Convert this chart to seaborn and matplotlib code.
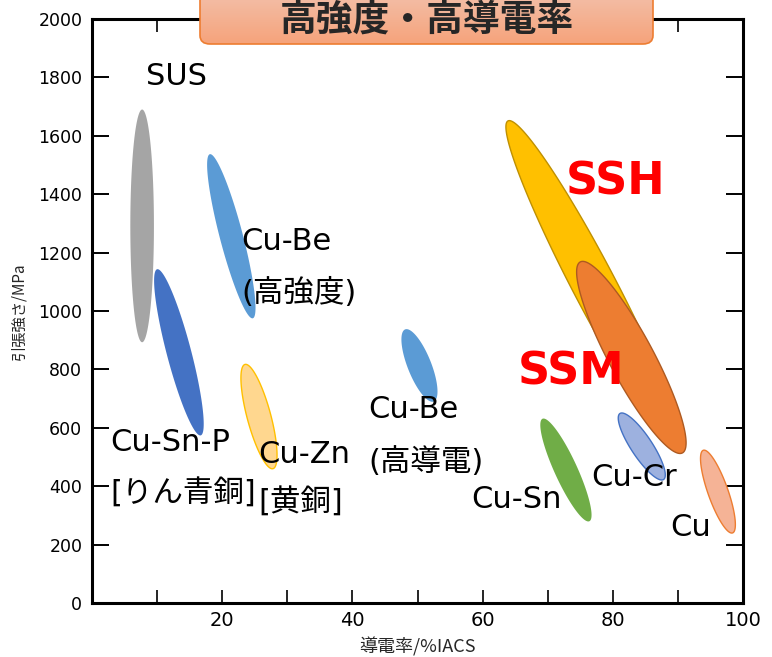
import numpy as np
import matplotlib
matplotlib.use("Agg")
import matplotlib.pyplot as plt
from matplotlib.patches import FancyBboxPatch
from matplotlib.colors import LinearSegmentedColormap
import seaborn as sns

# 材料ごとの範囲 (楕円の上端・下端: 導電率 %IACS, 引張強さ MPa)
materials = ["SUS", "Cu-Be(高強度)", "Cu-Sn-P", "Cu-Zn", "Cu-Be(高導電)",
             "SSH", "SSM", "Cu-Cr", "Cu-Sn", "Cu"]
cond_top = [7.7, 18.1, 10.0, 23.5, 48.1, 63.9, 75.0, 81.1, 69.2, 93.9]
str_top = [1690, 1537, 1143, 817, 937, 1651, 1168, 649, 631, 523]
cond_bot = [7.7, 24.7, 16.7, 27.8, 52.5, 90.5, 90.7, 87.8, 76.4, 98.4]
str_bot = [893, 975, 574, 460, 690, 519, 514, 423, 280, 240]

# 見た目 (太さ pt, 塗り, 枠)
half_width = [8.5, 8.3, 8.8, 8.5, 8.5, 15.5, 16.0, 7.6, 8.2, 7.2]
fills = ["#A5A5A5", "#5B9BD5", "#4472C4", "#FFD78F", "#5B9BD5",
         "#FFC000", "#ED7D31", "#9DB1DF", "#70AD47", "#F5B396"]
edges = ["none", "none", "none", "#FFC000", "none",
         "#BF9000", "#AE5A21", "#4472C4", "none", "#ED7D31"]

# ラベル
label_text = ["SUS", "Cu-Be", "(高強度)", "Cu-Sn-P", "[りん青銅]", "Cu-Zn", "[黄銅]",
              "Cu-Be", "(高導電)", "Cu-Sn", "Cu-Cr", "Cu"]
label_x = [8.3, 23.0, 23.0, 2.8, 2.8, 25.5, 25.5, 42.4, 42.4, 58.2, 76.7, 88.9]
label_y = [1802, 1238, 1063, 549, 374, 508, 344, 662, 484, 354, 430, 258]

xticks = list(range(0, 101, 10))
xticklabels = ["" if (t % 20 or t == 0) else str(t) for t in xticks]
yticks = list(range(0, 2001, 200))

sns.set_theme(style="ticks")
plt.rcParams["font.family"] = ["DejaVu Sans", "Noto Sans CJK JP"]

fig = plt.figure(figsize=(7.72, 6.57), dpi=100)
ax = fig.add_axes([92 / 772, 54 / 657, 651 / 772, 584 / 657])
ax.set_xlim(0, 100)
ax.set_ylim(0, 2000)


def ellipse(x1, y1, x2, y2, hw):
    tr = ax.transData
    p1 = tr.transform((x1, y1))
    p2 = tr.transform((x2, y2))
    c = (p1 + p2) / 2
    d = (p2 - p1) / 2
    u = d / np.hypot(*d)
    v = np.array([-u[1], u[0]]) * hw * fig.dpi / 72
    t = np.linspace(0, 2 * np.pi, 240)
    pts = c + np.outer(np.cos(t), d) + np.outer(np.sin(t), v)
    xy = tr.inverted().transform(pts)
    return xy[:, 0], xy[:, 1]


for i in range(len(materials)):
    xs, ys = ellipse(cond_top[i], str_top[i], cond_bot[i], str_bot[i], half_width[i])
    ax.fill(xs, ys, facecolor=fills[i], edgecolor=edges[i], lw=1.0, zorder=2)

for s, x, y in zip(label_text, label_x, label_y):
    ax.text(x, y, s, fontsize=22, ha="left", va="center", color="black", zorder=5)

ax.text(72.8, 1441, "SSH", fontsize=32, fontweight="bold", color="#FF0000",
        ha="left", va="center", zorder=5)
ax.text(65.4, 790, "SSM", fontsize=32, fontweight="bold", color="#FF0000",
        ha="left", va="center", zorder=5)

ax.set_xticks(xticks)
ax.set_xticklabels(xticklabels, fontsize=14, family=["Liberation Sans Narrow", "DejaVu Sans"])
ax.set_yticks(yticks)
ax.set_yticklabels([str(t) for t in yticks], fontsize=12.5)
ax.tick_params(axis="x", direction="in", top=True, length=9.5, width=1.2, pad=6, colors="black")
ax.tick_params(axis="y", direction="in", right=True, length=12.5, width=1.4, pad=7, colors="black")
for sp in ax.spines.values():
    sp.set_visible(True)
    sp.set_linewidth(2.2)
    sp.set_color("black")

ax.set_xlabel("導電率/%IACS", fontsize=13, family=["Noto Sans CJK JP"], labelpad=5)
ax.set_ylabel("引張強さ/MPa", fontsize=11, family=["Noto Sans CJK JP"], labelpad=8)

# タイトルの箱 (上から下へのグラデーション)
bx = fig.add_axes([0, 0, 1, 1], zorder=10)
bx.set_xlim(0, 1)
bx.set_ylim(0, 1)
bx.axis("off")
bx.patch.set_alpha(0)
box = FancyBboxPatch((200 / 772, 613 / 657), 453 / 772, 60 / 657,
                     boxstyle="round,pad=0,rounding_size=0.013",
                     facecolor="none", edgecolor="#ED7D31", lw=1.2)
bx.add_patch(box)
grad_cmap = LinearSegmentedColormap.from_list("title", ["#F6A37B", "#F3BBA2"])
img = bx.imshow(np.linspace(0, 1, 64).reshape(-1, 1), cmap=grad_cmap, origin="lower",
                extent=(200 / 772, 653 / 772, 613 / 657, 1.0), aspect="auto", zorder=1)
img.set_clip_path(box)
box.set_zorder(2)
bx.text(427 / 772, 1 - 20 / 657, "高強度・高導電率", fontsize=26.5, fontweight="bold",
        family=["Noto Sans CJK JP"], ha="center", va="center", zorder=3)

fig.savefig("out.png", dpi=100)
